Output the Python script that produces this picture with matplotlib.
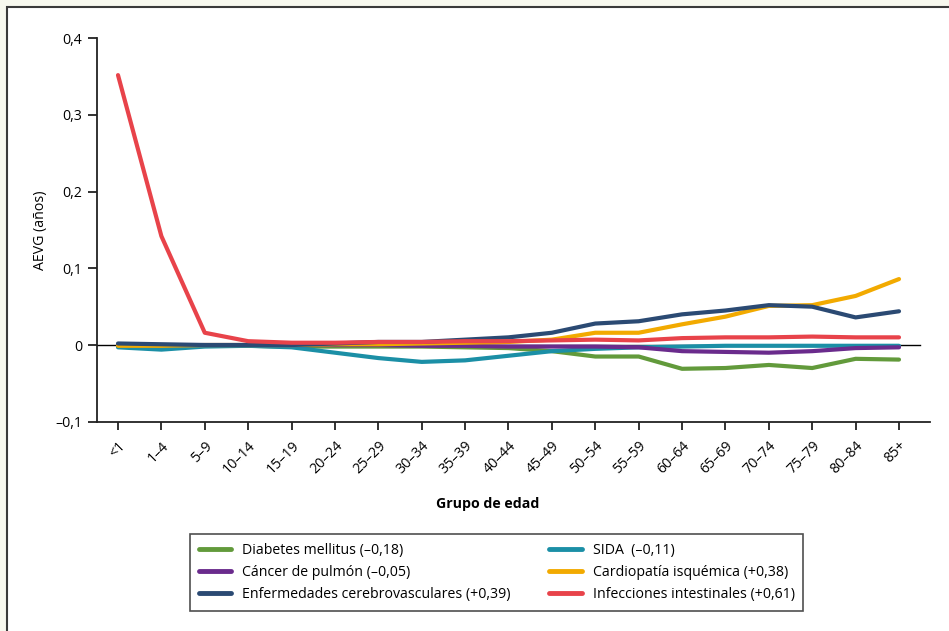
import matplotlib
matplotlib.use("Agg")
import matplotlib.pyplot as plt
from matplotlib.patches import Rectangle
import numpy as np

plt.rcParams['font.family'] = ['Open Sans', 'DejaVu Sans']

categories = ["<1", "1–4", "5–9", "10–14", "15–19", "20–24", "25–29", "30–34", "35–39",
              "40–44", "45–49", "50–54", "55–59", "60–64", "65–69", "70–74", "75–79",
              "80–84", "85+"]

diabetes = [-0.001, -0.001, -0.001, -0.001, -0.002, -0.002, -0.002, -0.002, -0.003,
            -0.004, -0.008, -0.015, -0.015, -0.031, -0.030, -0.026, -0.030, -0.018, -0.019]
sida = [-0.003, -0.006, -0.002, -0.001, -0.003, -0.010, -0.017, -0.022, -0.020,
        -0.014, -0.008, -0.005, -0.003, -0.002, -0.001, -0.001, -0.001, -0.001, -0.001]
cancer = [0.000, 0.000, 0.000, 0.000, 0.000, 0.000, 0.000, -0.001, -0.001,
          -0.002, -0.002, -0.002, -0.003, -0.008, -0.009, -0.010, -0.008, -0.004, -0.003]
cardio = [-0.001, -0.001, 0.000, 0.000, 0.000, 0.001, 0.001, 0.002, 0.003,
          0.004, 0.007, 0.016, 0.016, 0.027, 0.037, 0.051, 0.052, 0.064, 0.086]
cerebro = [0.002, 0.001, 0.000, 0.000, 0.000, 0.002, 0.004, 0.004, 0.007,
           0.010, 0.016, 0.028, 0.031, 0.040, 0.045, 0.052, 0.050, 0.036, 0.044]
infecc = [0.352, 0.142, 0.016, 0.005, 0.003, 0.003, 0.004, 0.004, 0.005,
          0.005, 0.006, 0.007, 0.006, 0.009, 0.010, 0.010, 0.011, 0.010, 0.010]

labels = ["Diabetes mellitus (–0,18)", "SIDA  (–0,11)", "Cáncer de pulmón (–0,05)",
          "Cardiopatía isquémica (+0,38)", "Enfermedades cerebrovasculares (+0,39)",
          "Infecciones intestinales (+0,61)"]
colors = ["#629a3b", "#1b8fa6", "#6a2b8c", "#f2aa00", "#2b4a73", "#e8434a"]
series = [diabetes, sida, cancer, cardio, cerebro, infecc]

yticks = [-0.1, 0, 0.1, 0.2, 0.3, 0.4]
ytick_labels = ["–0,1", "0", "0,1", "0,2", "0,3", "0,4"]

W, H = 949, 631
fig = plt.figure(figsize=(W / 100, H / 100), dpi=100, facecolor="#f7f8ee")
fig.patches.append(Rectangle((7 / W, -0.1), 1.2, (H - 7) / H + 0.1, transform=fig.transFigure,
                             facecolor="white", edgecolor="#3a3a3a", linewidth=1.5, zorder=-5))

ax = fig.add_axes([97 / W, 1 - 421.7 / H, (930 - 97) / W, (421.7 - 38.3) / H])
ax.set_facecolor("none")
x = np.arange(len(categories))
step = (899 - 118) / 18
xl = -(118 - 97) / step
xr = (930 - 118) / step
ax.set_xlim(xl, xr)
ax.set_ylim(-0.1, 0.4)

ax.plot([xl, (920 - 118) / step], [0, 0], color="black", lw=1.0, zorder=1)

handles = {}
for s, c, lab in zip(series, colors, labels):
    h, = ax.plot(x, s, color=c, lw=3.0, label=lab, solid_capstyle="round",
                 solid_joinstyle="round", zorder=2)
    handles[lab] = h

for sp in ["top", "right"]:
    ax.spines[sp].set_visible(False)
for sp in ["left", "bottom"]:
    ax.spines[sp].set_linewidth(1.3)
    ax.spines[sp].set_color("#222222")

ax.set_yticks(yticks)
ax.set_yticklabels(ytick_labels, fontsize=10.2)
ax.set_xticks(x)
ax.set_xticklabels(categories, fontsize=10.2, rotation=45, ha="right", rotation_mode="anchor")
ax.tick_params(axis="y", length=6.5, width=1.3, color="#222222", pad=4)
ax.tick_params(axis="x", length=6, width=1.3, color="#222222", pad=6)

ax.set_ylabel("AEVG (años)", fontsize=10.2, labelpad=5)
fig.text(488 / W, 1 - 504 / H, "Grupo de edad", fontsize=10.2, fontweight="bold",
         ha="center", va="center")

order = [labels[0], labels[2], labels[4], labels[1], labels[3], labels[5]]
leg = fig.legend([handles[l] for l in order], order, ncol=2, loc="upper left",
                 bbox_to_anchor=(190 / W, 1 - 534 / H), borderaxespad=0, fontsize=10.2,
                 frameon=True, fancybox=False, edgecolor="#222222", handlelength=2.3,
                 handletextpad=0.75, columnspacing=2.75, labelspacing=0.5, borderpad=0.62)
leg.get_frame().set_linewidth(1.2)
for lh in leg.get_lines():
    lh.set_linewidth(3.5)

fig.savefig("out.png", dpi=100, facecolor=fig.get_facecolor())
